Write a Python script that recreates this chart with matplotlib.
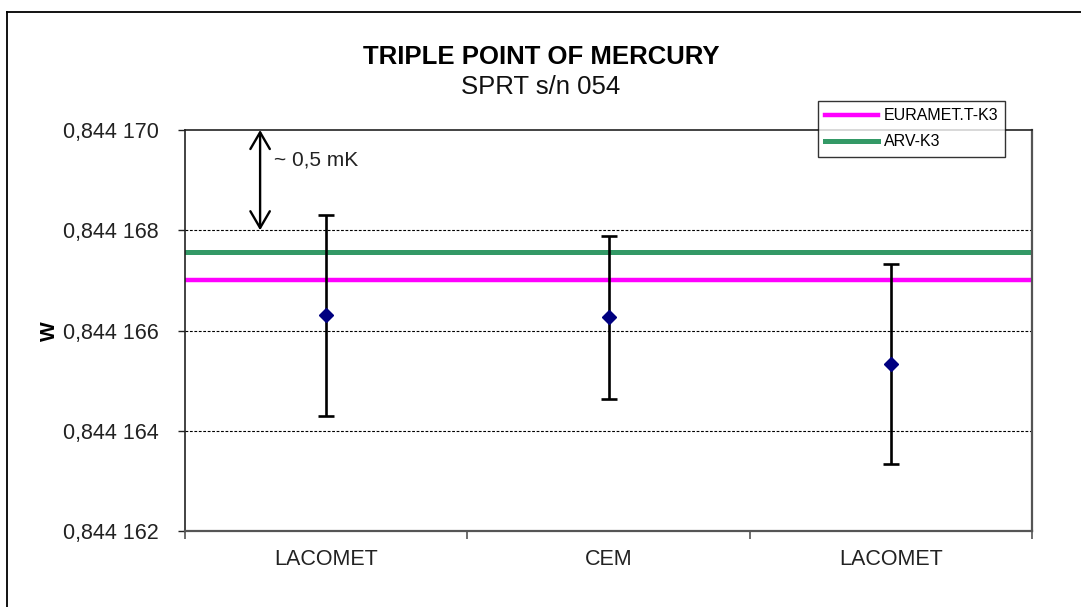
import matplotlib
matplotlib.use("Agg")
import matplotlib.pyplot as plt
from matplotlib.lines import Line2D
from matplotlib.ticker import FuncFormatter, FixedLocator

plt.rcParams['font.family'] = ['Liberation Sans', 'DejaVu Sans']

# data (W values)
labs = ["LACOMET", "CEM", "LACOMET"]
w_mean = [0.84416630, 0.84416626, 0.84416533]
w_unc = [0.00000200, 0.00000163, 0.00000199]
ref_euramet = 0.84416700
ref_arv = 0.84416756
yticks = [0.844162, 0.844164, 0.844166, 0.844168, 0.844170]

fig = plt.figure(figsize=(10.81, 6.07), dpi=100)
ax = fig.add_axes([185/1081, 1 - 531/607, 847/1081, 401/607])

# reference lines
ax.axhline(ref_arv, color="#339966", lw=3.6, zorder=2)
ax.axhline(ref_euramet, color="#FF00FF", lw=3.2, zorder=2)

# points with uncertainty
xs = list(range(len(labs)))
ax.errorbar(xs, w_mean, yerr=w_unc, fmt="D", color="black", ecolor="black",
            elinewidth=1.9, capsize=6, capthick=1.9,
            markerfacecolor="#000080", markeredgecolor="#000080",
            markersize=7.5, zorder=4)

ax.set_xlim(-0.5, 2.5)
ax.set_ylim(yticks[0], yticks[-1])

# grid
for v in yticks[1:-1]:
    ax.axhline(v, color="black", lw=0.8, ls=(0, (2.5, 1.5)), zorder=1)

# ticks
ax.yaxis.set_major_locator(FixedLocator(yticks))
def fmt(v, pos):
    s = f"{v:.6f}".replace(".", ",")
    return s[:5] + " " + s[5:]
ax.yaxis.set_major_formatter(FuncFormatter(fmt))
ax.tick_params(axis="y", direction="out", length=5, width=1, pad=14,
               labelsize=15.5, labelcolor="#222222", color="#222222")

ax.set_xticks([-0.5, 0.5, 1.5, 2.5])
ax.set_xticklabels([])
ax.set_xticks(xs, minor=True)
ax.set_xticklabels(labs, minor=True)
ax.tick_params(axis="x", which="major", direction="out", length=6, width=1.2, colors="#555555")
ax.tick_params(axis="x", which="minor", length=0, pad=13, labelsize=15.5, labelcolor="#222222")

for s in ["left", "top"]:
    ax.spines[s].set_color("#222222")
    ax.spines[s].set_linewidth(1.2)
for s in ["bottom", "right"]:
    ax.spines[s].set_color("#555555")
    ax.spines[s].set_linewidth(1.6)

# double arrow annotation
ax.annotate("", xy=(-0.234, yticks[-1]), xytext=(-0.234, yticks[-2]),
            arrowprops=dict(arrowstyle="<->,head_length=0.6,head_width=0.35",
                            lw=1.7, color="black", mutation_scale=20,
                            shrinkA=0, shrinkB=0), zorder=5)
ax.text(-0.185, 0.8441694, "~ 0,5 mK", fontsize=15, color="#222222",
        ha="left", va="center")

# titles
fig.text(541/1081, 1 - 57/607, "TRIPLE POINT OF MERCURY", fontsize=18.5,
         fontweight="bold", ha="center", va="center")
fig.text(541/1081, 1 - 87/607, "SPRT s/n 054", fontsize=18.5,
         ha="center", va="center", color="#111111")

fig.text(49/1081, 1 - 331/607, "W", fontsize=15, fontweight="bold",
         rotation=90, ha="center", va="center")

# legend
handles = [Line2D([], [], color="#FF00FF", lw=3.2),
           Line2D([], [], color="#339966", lw=3.6)]
leg = fig.legend(handles, ["EURAMET.T-K3", "ARV-K3"],
                 loc="upper left", bbox_to_anchor=(818/1081, 1 - 101/607),
                 fontsize=11.5, frameon=True, fancybox=False,
                 handlelength=3.3, handletextpad=0.35, labelspacing=0.7,
                 borderpad=0.45, borderaxespad=0)
leg.get_frame().set_edgecolor("black")
leg.get_frame().set_linewidth(1.0)
leg.set_zorder(10)

# outer chart border
fig.add_artist(Line2D([7.5/1081, 7.5/1081], [0, 1 - 11.5/607], color="black",
                      lw=1.3, transform=fig.transFigure))
fig.add_artist(Line2D([7.5/1081, 1], [1 - 11.5/607, 1 - 11.5/607], color="black",
                      lw=1.3, transform=fig.transFigure))

fig.savefig("out.png", dpi=100)
